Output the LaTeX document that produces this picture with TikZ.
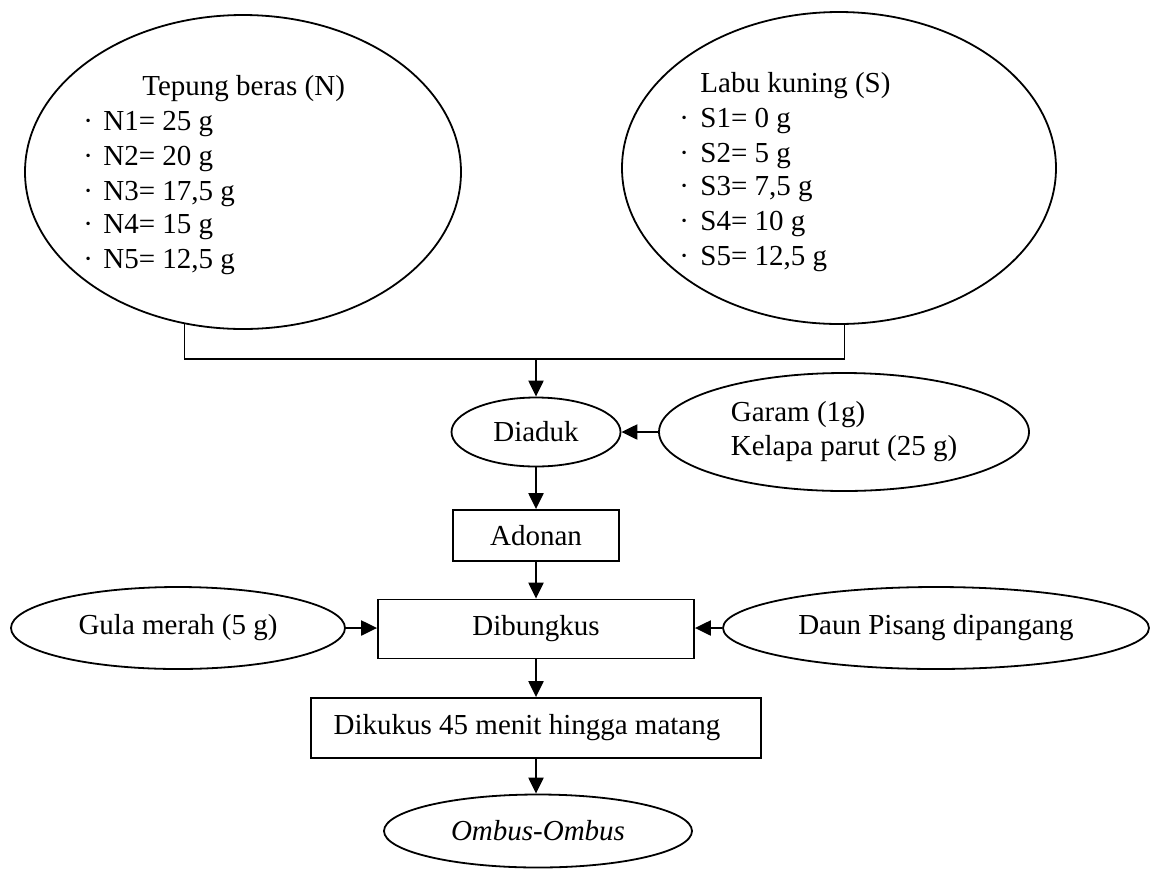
\documentclass[tikz,border=0pt]{standalone}
\usepackage{fontspec}
\setmainfont{Liberation Serif}
\usetikzlibrary{shapes.geometric,arrows.meta}
\begin{document}
\begin{tikzpicture}[x=0.5pt,y=-0.5pt,
  every node/.style={font=\fontsize{14.5pt}{17pt}\selectfont},
  ell/.style={draw, ellipse, line width=0.9pt, inner sep=0pt},
  boxnode/.style={draw, rectangle, line width=0.9pt, inner sep=0pt},
  arr/.style={line width=1.1pt, -{Triangle[length=8pt,width=7.5pt]}},
  conn/.style={line width=0.9pt},
  txt/.style={inner sep=0pt, anchor=base west}]
\useasboundingbox (0,0) rectangle (1163,869);

% big ellipses
\node[ell, minimum width=218pt, minimum height=157pt] (L) at (243,172) {};
\node[ell, minimum width=217pt, minimum height=156pt] (R) at (839,168) {};

\node[txt] (Lh) at (142,95) {Tepung beras (N)};
\foreach \i/\yy/\lab in {1/130/{N1= 25 g},2/165/{N2= 20 g},3/200/{N3= 17,5 g},4/233/{N4= 15 g},5/268/{N5= 12,5 g}}{
  \node[txt] (Lb\i) at (83,\yy) {·};
  \node[txt] (L\i) at (103,\yy) {\lab};
}
\node[txt] (Rh) at (700,92) {Labu kuning (S)};
\foreach \i/\yy/\lab in {1/127/{S1= 0 g},2/162/{S2= 5 g},3/195/{S3= 7,5 g},4/230/{S4= 10 g},5/265/{S5= 12,5 g}}{
  \node[txt] (Rb\i) at (679,\yy) {·};
  \node[txt] (R\i) at (700,\yy) {\lab};
}

\coordinate (jy) at (0,359);
\coordinate (j) at (536,359);
\draw[conn] (L.249.4) -- (L.249.4 |- jy) -- (R.272.9 |- jy) -- (R.272.9);

% process nodes
\node[ell, minimum width=84.5pt, minimum height=34.5pt] (diaduk) at (536,432) {Diaduk};
\node[ell, minimum width=185pt, minimum height=59pt, align=left] (garam) at (844,432) {Garam (1g)\\Kelapa parut (25 g)};
\node[boxnode, minimum width=83pt, minimum height=25.5pt] (adonan) at (536,535.5) {Adonan};
\node[boxnode, minimum width=158pt, minimum height=29.5pt] (dibungkus) at (536,629) {Dibungkus};
\node[ell, minimum width=167pt, minimum height=41pt] (gula) at (178,628) {Gula merah (5 g)};
\node[ell, minimum width=213pt, minimum height=41pt] (daun) at (936,628) {Daun Pisang dipangang};
\node[boxnode, minimum width=225pt, minimum height=30pt] (dikukus) at (536,728) {\hspace*{-9pt}Dikukus 45 menit hingga matang};
\node[ell, minimum width=154pt, minimum height=36.5pt] (ombus) at (538,831) {\itshape Ombus-Ombus};

% arrows
\draw[arr] (j) -- (diaduk.north);
\draw[arr] (garam.west) -- (diaduk.east);
\draw[arr] (diaduk.south) -- (adonan.north);
\draw[arr] (adonan.south) -- (dibungkus.north);
\draw[arr] (gula.east) -- (gula.east -| dibungkus.west);
\draw[arr] (daun.west) -- (daun.west -| dibungkus.east);
\draw[arr] (dibungkus.south) -- (dikukus.north);
\draw[arr] (dikukus.south) -- (dikukus.south |- ombus.north);
\end{tikzpicture}
\end{document}
